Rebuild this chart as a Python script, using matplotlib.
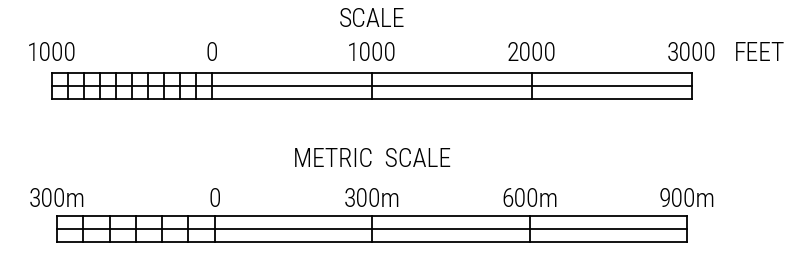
import matplotlib
matplotlib.use("Agg")
import matplotlib.pyplot as plt

# ---- data ----
feet_title = "SCALE"
feet_major = [0, 1000, 2000, 3000]          # feet, right of zero
feet_minor_extent = 1000                     # feet, left of zero
feet_minor_step = 100
feet_labels = ["1000", "0", "1000", "2000", "3000"]
feet_label_pos = [-1000, 0, 1000, 2000, 3000]
feet_unit = "FEET"

metric_title = "METRIC  SCALE"
metric_major = [0, 300, 600, 900]           # metres, right of zero
metric_minor_extent = 300
metric_minor_step = 50
metric_labels = ["300m", "0", "300m", "600m", "900m"]
metric_label_pos = [-300, 0, 300, 600, 900]

FONT = ["Roboto Condensed", "Gulim", "DejaVu Sans"]
FW = 300
FS = 18.5
LW = 1.3

fig = plt.figure(figsize=(8.06, 2.74), dpi=100)


def draw_bar(ax, major, minor_extent, minor_step, labels, label_pos,
             title, y_top, y_bot, y_lab, y_title, unit=None):
    y_mid = (y_top + y_bot) / 2
    left, right = -minor_extent, major[-1]
    kw = dict(color="black", lw=LW, solid_capstyle="projecting")
    ax.plot([left, right], [y_top, y_top], **kw)
    ax.plot([left, right], [y_bot, y_bot], **kw)
    ax.plot([left, right], [y_mid, y_mid], **kw)
    for v in major:
        ax.plot([v, v], [y_top, y_bot], **kw)
    v = -minor_extent
    while v < 0:
        ax.plot([v, v], [y_top, y_bot], **kw)
        v += minor_step
    for lab, pos in zip(labels, label_pos):
        ax.text(pos, y_lab, lab, ha="center", va="baseline",
                family=FONT, weight=FW, fontsize=FS)
    if unit:
        ax.annotate(unit, xy=(major[-1], y_lab), xytext=(30, 0),
                    textcoords="offset points", ha="left", va="baseline",
                    family=FONT, weight=FW, fontsize=FS)
    mid = (left + right) / 2
    ax.text(mid, y_title, title, ha="center", va="baseline",
            family=FONT, weight=FW, fontsize=FS)


# feet axes: pixel x = 212 + 0.16 * ft
ax1 = fig.add_axes([0, 0, 1, 1])
ax1.set_xlim((0 - 212) / 0.16, (806 - 212) / 0.16)
ax1.set_ylim(274, 0)
ax1.axis("off")
draw_bar(ax1, feet_major, feet_minor_extent, feet_minor_step, feet_labels,
         feet_label_pos, feet_title, 73, 99, 61, 27, unit=feet_unit)

# metric axes: pixel x = 214.7 + 0.5248 * m
ax2 = fig.add_axes([0, 0, 1, 1])
ax2.set_xlim((0 - 214.7) / 0.5248, (806 - 214.7) / 0.5248)
ax2.set_ylim(274, 0)
ax2.axis("off")
ax2.patch.set_alpha(0)
draw_bar(ax2, metric_major, metric_minor_extent, metric_minor_step,
         metric_labels, metric_label_pos, metric_title, 216, 242, 207, 167)

fig.savefig("out.png", dpi=100)
